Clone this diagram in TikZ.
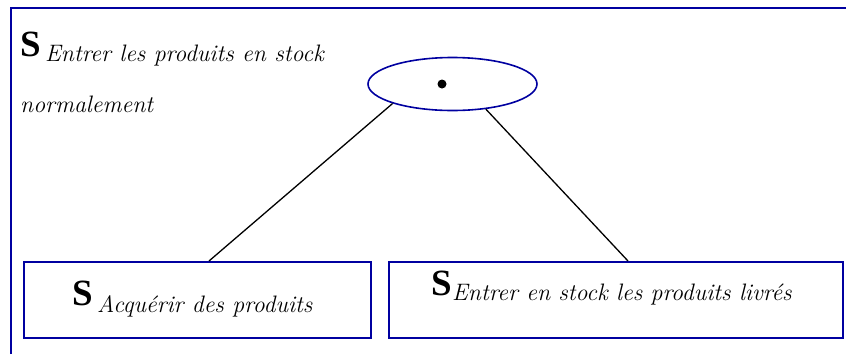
\documentclass[tikz,border=0pt]{standalone}
\usepackage{fontspec}
\newfontfamily\sfontS{Liberation Serif}
\usetikzlibrary{shapes.geometric}
\definecolor{frameblue}{RGB}{0,0,160}
\tikzset{
  boxstyle/.style={draw=frameblue, line width=2pt, rectangle, inner sep=0pt},
  ovalstyle/.style={draw=frameblue, line width=1.6pt, ellipse, inner sep=0pt, minimum width=169pt, minimum height=53pt},
  bigS/.style={anchor=base west, inner sep=0pt, font=\sfontS\fontsize{37}{37}\selectfont\bfseries},
  subtext/.style={anchor=base west, inner sep=0pt, font=\rmfamily\fontsize{23.8}{24}\selectfont\itshape},
  link/.style={draw=black, line width=1.3pt},
  framestyle/.style={draw=frameblue, line width=2pt}
}
\begin{document}
\begin{tikzpicture}[x=1pt, y=-1pt]
\useasboundingbox (0,0) rectangle (846,354);
% outer frame (left and top edges)
\coordinate (fbl) at (11,354);
\coordinate (ftl) at (11,8);
\coordinate (ftr) at (846,8);
\draw[framestyle] (fbl) -- (ftl) -- (ftr);
% title text
\node[bigS] (ts) at (20,56) {S};
\node[subtext] (tsub) at (45,61) {Entrer les produits en stock};
\node[subtext] (tsub2) at (20,112) {normalement};
% ellipse with dot
\node[ovalstyle] (oval) at (452.5,84) {};
\fill (442,84) circle[radius=4.5pt];
% boxes
\node[boxstyle, minimum width=347pt, minimum height=76pt] (lbox) at (197.5,300) {};
\node[boxstyle, minimum width=454pt, minimum height=76pt] (rbox) at (616,300) {};
\node[bigS] (ls) at (72,305) {S};
\node[subtext] (lsub) at (97,312) {Acquérir des produits};
\node[bigS] (rs) at (431,295) {S};
\node[subtext] (rsub) at (452,300) {Entrer en stock les produits livrés};
% connectors
\draw[link] (oval.198) -- ([xshift=11.5pt]lbox.north);
\draw[link] (oval.323) -- ([xshift=12pt]rbox.north);
\end{tikzpicture}
\end{document}
